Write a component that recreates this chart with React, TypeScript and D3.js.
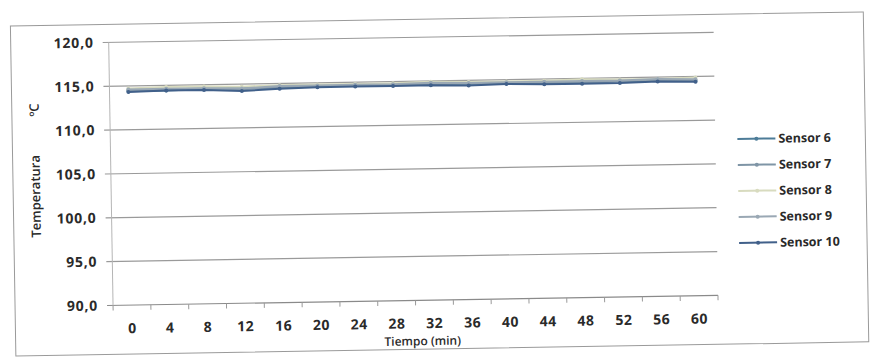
import React from "react";
import * as d3 from "d3";

const categories = ["0","4","8","12","16","20","24","28","32","36","40","44","48","52","56","60"];
const seriesNames = ["Sensor 6","Sensor 7","Sensor 8","Sensor 9","Sensor 10"];
const sensor6 = [114.4,114.4,114.5,114.6,114.5,114.6,114.6,114.6,114.7,114.6,114.6,114.5,114.6,114.6,114.6,114.5];
const sensor7 = [114.5,114.5,114.6,114.4,114.6,114.6,114.7,114.6,114.6,114.7,114.6,114.6,114.5,114.6,114.7,114.6];
const sensor8 = [114.7,114.8,114.8,114.7,114.8,114.8,114.8,114.8,114.9,114.8,114.8,114.8,114.9,114.8,114.8,114.9];
const sensor9 = [114.6,114.6,114.6,114.5,114.7,114.7,114.7,114.7,114.8,114.7,114.7,114.7,114.7,114.7,114.8,114.7];
const sensor10 = [114.3,114.4,114.4,114.2,114.4,114.5,114.5,114.5,114.5,114.4,114.5,114.4,114.4,114.4,114.5,114.4];
const seriesValues = [sensor6, sensor7, sensor8, sensor9, sensor10];
const seriesColors = ["#4d7c98", "#7f95a6", "#d8dbbf", "#9aa8b4", "#41608a"];
const yTicks = [90, 95, 100, 105, 110, 115, 120];

export default function App() {
  const x0 = 111, x1 = 716, yTop = 37, yBot = 300;
  const x = d3.scalePoint<string>().domain(categories).range([x0, x1]).padding(0.5);
  const y = d3.scaleLinear().domain([90, 120]).range([yBot, yTop]);
  const step = x.step();
  const line = d3.line<number>().x((_, i) => x(categories[i]) as number).y((v) => y(v));
  const font = "'Open Sans', Lato, sans-serif";
  const tickBounds = d3.range(categories.length + 1).map((i) => x0 + i * step);

  return (
    <svg width={874} height={358} style={{ position: "absolute", left: 0, top: 0, background: "#fff" }}>
      <rect x={0} y={0} width={874} height={358} fill="#fff" />
      <g transform="rotate(-0.95, 437, 179)">
        <rect x={13} y={19} width={853} height={330} fill="none" stroke="#9a9a9a" strokeWidth={1} />
        {yTicks.map((t) => (
          <g key={t}>
            <line x1={x0 - 6} x2={x1} y1={y(t)} y2={y(t)} stroke={t === 90 ? "#8a8a8a" : "#9a9a9a"} strokeWidth={1.2} />
            <text x={96} y={y(t)} dy="0.35em" textAnchor="end" fontFamily={font} fontWeight={700} fontSize={14} letterSpacing={0.8} fill="#2a2a2a">
              {d3.format(".1f")(t).replace(".", ",")}
            </text>
          </g>
        ))}
        <line x1={x0} x2={x0} y1={yTop} y2={yBot} stroke="#b5b5b5" strokeWidth={1} />
        {tickBounds.map((tx, i) => (
          <line key={i} x1={tx} x2={tx} y1={yBot} y2={yBot + 5} stroke="#9a9a9a" strokeWidth={1} />
        ))}
        {categories.map((c) => (
          <text key={c} x={x(c) as number} y={328} textAnchor="middle" fontFamily={font} fontWeight={700} fontSize={14} letterSpacing={0.5} fill="#2a2a2a">
            {c}
          </text>
        ))}
        <text x={420} y={345} textAnchor="middle" fontFamily={font} fontWeight={600} fontSize={12} fill="#2a2a2a">
          Tiempo (min)
        </text>
        <text transform="translate(40,231) rotate(-90)" fontFamily={font} fontWeight={600} fontSize={13} fill="#2a2a2a">
          Temperatura
        </text>
        <text transform="translate(40,110) rotate(-90)" fontFamily={font} fontWeight={600} fontSize={13} fill="#2a2a2a">
          ºC
        </text>
        {seriesValues.map((vals, si) => (
          <g key={seriesNames[si]}>
            <path d={line(vals) || ""} fill="none" stroke={seriesColors[si]} strokeWidth={2} />
            {vals.map((v, i) => (
              <circle key={i} cx={x(categories[i]) as number} cy={y(v)} r={2} fill={seriesColors[si]} />
            ))}
          </g>
        ))}
        {seriesNames.map((n, si) => {
          const ly = 144 + si * 26;
          return (
            <g key={n}>
              <line x1={738} x2={776} y1={ly} y2={ly} stroke={seriesColors[si]} strokeWidth={2} />
              <circle cx={757} cy={ly} r={2} fill={seriesColors[si]} />
              <text x={779} y={ly} dy="0.35em" fontFamily={font} fontWeight={700} fontSize={12.5} fill="#2a2a2a">
                {n}
              </text>
            </g>
          );
        })}
      </g>
    </svg>
  );
}
